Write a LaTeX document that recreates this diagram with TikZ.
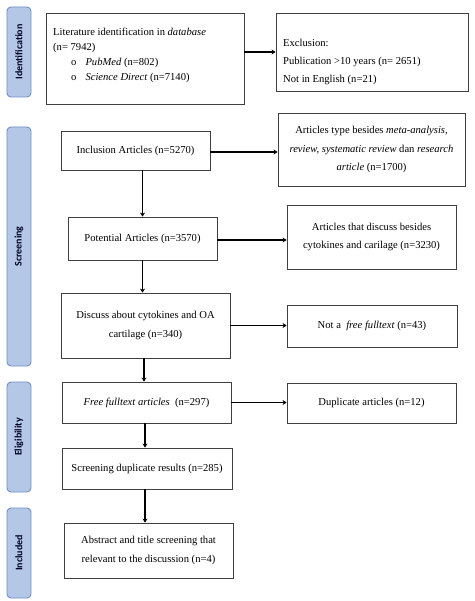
\documentclass[tikz,border=0pt]{standalone}
\usepackage{fontspec}
\setmainfont{Liberation Serif}
\newfontfamily\phasefont{Carlito}
\usetikzlibrary{arrows.meta,calc}
\definecolor{phasefill}{HTML}{B4C7E7}
\definecolor{phasedraw}{HTML}{6F8FC6}
\definecolor{boxline}{HTML}{404040}
\begin{document}
\begin{tikzpicture}[x=1pt,y=-1pt,
  box/.style={draw=boxline, line width=0.8pt, fill=white, inner sep=0pt, align=center,
    font=\fontsize{10.6}{18.5}\selectfont},
  lefttext/.style={anchor=base west, font=\fontsize{10.6}{15}\selectfont, inner sep=0pt},
  phase/.style={draw=phasedraw, line width=0.9pt, fill=phasefill, rounded corners=4pt, inner sep=0pt},
  phasetext/.style={rotate=90, font=\phasefont\bfseries\fontsize{10}{11}\selectfont, text=black!85!blue},
  arr/.style={line width=1.7pt, -{Stealth[length=4pt,width=5pt]}}
]
\useasboundingbox (0,0) rectangle (474,601);
% phase labels
\node[phase, minimum width=24pt, minimum height=90pt] (p1) at (19,52) {};
\node[phasetext] (t1) at (p1.center) {Identification};
\node[phase, minimum width=24pt, minimum height=239pt] (p2) at (19,246.5) {};
\node[phasetext] (t2) at (p2.center) {Screening};
\node[phase, minimum width=24pt, minimum height=110pt] (p3) at (19,437) {};
\node[phasetext] (t3) at (p3.center) {Eligibility};
\node[phase, minimum width=24pt, minimum height=90pt] (p4) at (19,553) {};
\node[phasetext] (t4) at (p4.center) {Included};

% boxes
\node[box, minimum width=198pt, minimum height=91pt] (lit) at (145,58.5) {};
\node[lefttext] (lit1) at (53,35.5) {Literature identification in \textit{database}};
\node[lefttext] (lit2) at (53,50.5) {(n= 7942)};
\node[lefttext] (lit3) at (71,65.5) {o\hspace{9pt}\textit{PubMed} (n=802)};
\node[lefttext] (lit4) at (71,81) {o\hspace{9pt}\textit{Science Direct} (n=7140)};

\node[box, minimum width=192pt, minimum height=78pt] (exc) at (372,52) {};
\node[lefttext] (exc1) at (283,46.5) {Exclusion:};
\node[lefttext] (exc2) at (283,64.5) {Publication >10 years (n= 2651)};
\node[lefttext] (exc3) at (283,83) {Not in English (n=21)};

\node[box, minimum width=149pt, minimum height=39pt] (inc) at (135.5,150.5) {Inclusion Articles (n=5270)};
\node[box, minimum width=187pt, minimum height=73pt] (typ) at (371.5,149.5)
  {Articles type besides \textit{meta-analysis,}\\ \textit{review, systematic review} dan \textit{research}\\ \textit{article} (n=1700)};

\node[box, minimum width=149pt, minimum height=43pt] (pot) at (142.5,238.5) {Potential Articles (n=3570)};
\node[box, minimum width=169pt, minimum height=64pt] (bes) at (371.5,237)
  {Articles that discuss besides\\ cytokines and carilage (n=3230)};

\node[box, minimum width=169pt, minimum height=65pt] (dis) at (145.5,325.5)
  {Discuss about cytokines and OA\\ cartilage (n=340)};
\node[box, minimum width=170pt, minimum height=42pt] (nft) at (372,326) {Not a \ \textit{free fulltext} (n=43)};

\node[box, minimum width=169pt, minimum height=41pt] (ff) at (146.5,402.5) {\textit{Free fulltext articles}\ \ (n=297)};
\node[box, minimum width=169pt, minimum height=40pt] (dup) at (371.5,403) {Duplicate articles (n=12)};

\node[box, minimum width=170pt, minimum height=41pt] (scr) at (147,468.5) {Screening duplicate results (n=285)};

\node[box, minimum width=169pt, minimum height=55pt] (abs) at (148.5,550.5)
  {Abstract and title screening that\\ relevant to the discussion (n=4)};

% arrows
\draw[arr] (lit.east |- exc.west) -- (exc.west);
\draw[arr] ($(inc.east)+(0,1.5)$) -- ($(inc.east -| typ.west)+(0,1.5)$);
\draw[arr] (pot.north |- inc.south) -- (pot.north);
\draw[arr] ($(pot.east)+(0,1.5)$) -- ($(pot.east -| bes.west)+(0,1.5)$);
\draw[arr] (pot.south) -- (pot.south |- dis.north);
\draw[arr] (dis.east) -- (dis.east -| nft.west);
\draw[arr] ($(dis.south)+(-1.5,0)$) -- ($(dis.south |- ff.north)+(-1.5,0)$);
\draw[arr] (ff.east) -- (ff.east -| dup.west);
\draw[arr] ($(ff.south)+(-1.5,0)$) -- ($(ff.south |- scr.north)+(-1.5,0)$);
\draw[arr] ($(scr.south)+(-2,0)$) -- ($(scr.south |- abs.north)+(-2,0)$);
\end{tikzpicture}
\end{document}
